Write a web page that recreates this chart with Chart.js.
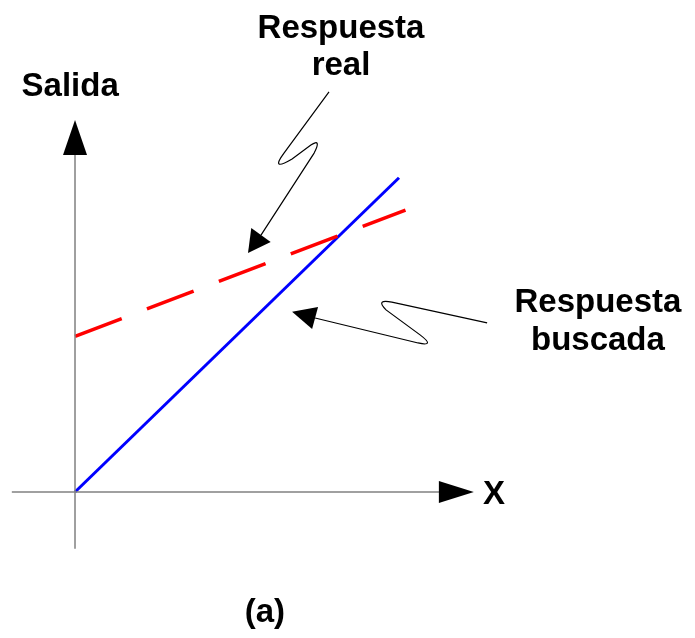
<!DOCTYPE html>
<html>
<head>
<meta charset="utf-8">
<script src="https://cdn.jsdelivr.net/npm/chart.js@4/dist/chart.umd.min.js"></script>
<style>
    html, body { margin: 0; padding: 0; background: #fff; }
    #lienzo { display: block; }
</style>
</head>
<body>
<canvas id="lienzo" width="695" height="638"></canvas>
<script>
// Datos del diagrama (unidades arbitrarias, origen en el cruce de ejes)
const buscadaX = [0, 10];
const buscadaY = [0, 9.7];
const realX = [0, 10.2];
const realY = [4.8, 8.7];
const ejeHorizX = [-1.95, 11.3];
const ejeVertY = [-1.75, 10.5];

// Flechas de los ejes: [punta, base]
const puntaEjeX = [[12.31, 0], [11.23, 0]];
const puntaEjeY = [[0, 11.48], [0, 10.40]];

// Trazos de las llamadas (tipo "zigzag"), en unidades de datos
const llamadaReal = [
    ['M', 7.84, 12.35],
    ['L', 6.45, 10.46],
    ['Q', 6.02, 9.88, 6.70, 10.28],
    ['L', 7.28, 10.71],
    ['Q', 7.62, 10.93, 7.38, 10.46],
    ['L', 5.74, 7.93]
];
const puntaReal = [[5.34, 7.38], [5.74, 7.93]];

const llamadaBuscada = [
    ['M', 12.72, 5.22],
    ['L', 9.78, 5.86],
    ['Q', 9.26, 5.96, 9.60, 5.62],
    ['L', 10.65, 4.85],
    ['Q', 11.14, 4.48, 10.59, 4.60],
    ['L', 7.41, 5.37]
];
const puntaBuscada = [[6.70, 5.56], [7.41, 5.37]];

// Textos: [texto, x, y de la línea base]
const etiquetas = [
    ['Salida', -0.15, 12.22],
    ['Respuesta', 8.21, 14.01],
    ['real', 8.21, 12.87],
    ['Respuesta', 16.14, 5.56],
    ['buscada', 16.14, 4.38],
    ['X', 12.93, -0.38],
    ['(a)', 5.86, -4.01]
];

const FUENTE = 'bold 33px "Liberation Sans", Arial, sans-serif';

function puntos(xs, ys) {
    return xs.map((x, i) => ({ x, y: ys[i] }));
}

function dibujarPunta(ctx, sx, sy, punta, mitad) {
    const tx = sx.getPixelForValue(punta[0][0]);
    const ty = sy.getPixelForValue(punta[0][1]);
    const bx = sx.getPixelForValue(punta[1][0]);
    const by = sy.getPixelForValue(punta[1][1]);
    const dx = tx - bx, dy = ty - by;
    const largo = Math.hypot(dx, dy);
    const nx = -dy / largo, ny = dx / largo;
    ctx.beginPath();
    ctx.moveTo(tx, ty);
    ctx.lineTo(bx + nx * mitad, by + ny * mitad);
    ctx.lineTo(bx - nx * mitad, by - ny * mitad);
    ctx.closePath();
    ctx.fillStyle = '#000';
    ctx.fill();
}

function dibujarLlamada(ctx, sx, sy, trazo) {
    const px = v => sx.getPixelForValue(v);
    const py = v => sy.getPixelForValue(v);
    ctx.beginPath();
    trazo.forEach(p => {
        if (p[0] === 'M') ctx.moveTo(px(p[1]), py(p[2]));
        else if (p[0] === 'L') ctx.lineTo(px(p[1]), py(p[2]));
        else ctx.quadraticCurveTo(px(p[1]), py(p[2]), px(p[3]), py(p[4]));
    });
    ctx.strokeStyle = '#000';
    ctx.lineWidth = 1.2;
    ctx.stroke();
}

const pluginDecoracion = {
    id: 'decoracion',
    afterDatasetsDraw(chart) {
        const ctx = chart.ctx;
        const sx = chart.scales.x;
        const sy = chart.scales.y;
        ctx.save();
        dibujarPunta(ctx, sx, sy, puntaEjeX, 11);
        dibujarPunta(ctx, sx, sy, puntaEjeY, 12);
        dibujarLlamada(ctx, sx, sy, llamadaReal);
        dibujarPunta(ctx, sx, sy, puntaReal, 12);
        dibujarLlamada(ctx, sx, sy, llamadaBuscada);
        dibujarPunta(ctx, sx, sy, puntaBuscada, 11.5);

        ctx.font = FUENTE;
        ctx.fillStyle = '#000';
        ctx.textAlign = 'center';
        ctx.textBaseline = 'alphabetic';
        etiquetas.forEach(([t, x, y]) => {
            ctx.fillText(t, sx.getPixelForValue(x), sy.getPixelForValue(y));
        });
        ctx.restore();
    }
};

new Chart(document.getElementById('lienzo'), {
    type: 'scatter',
    data: {
        datasets: [
            {
                data: puntos(ejeHorizX, [0, 0]),
                showLine: true, borderColor: '#808080', borderWidth: 1.5, pointRadius: 0
            },
            {
                data: puntos([0, 0], ejeVertY),
                showLine: true, borderColor: '#808080', borderWidth: 1.5, pointRadius: 0
            },
            {
                data: puntos(realX, realY),
                showLine: true, borderColor: '#ff0000', borderWidth: 3.5,
                borderDash: [50, 27], borderCapStyle: 'butt', pointRadius: 0
            },
            {
                data: puntos(buscadaX, buscadaY),
                showLine: true, borderColor: '#0000ff', borderWidth: 3, pointRadius: 0
            }
        ]
    },
    options: {
        responsive: false,
        animation: false,
        events: [],
        layout: { padding: 0 },
        plugins: { legend: { display: false }, tooltip: { enabled: false } },
        scales: {
            x: { type: 'linear', min: -2.315, max: 19.136, display: false },
            y: { type: 'linear', min: -4.506, max: 15.185, display: false }
        }
    },
    plugins: [pluginDecoracion]
});
</script>
</body>
</html>
